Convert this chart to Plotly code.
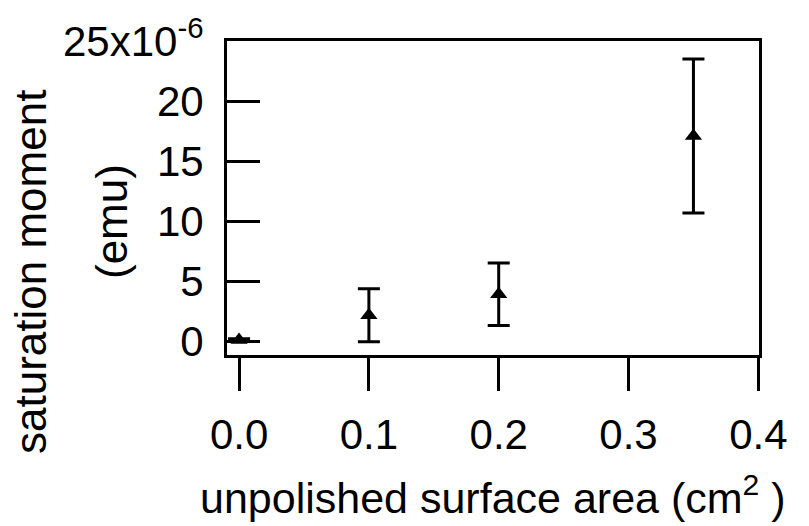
import plotly.graph_objects as go

# Data
area_cm2 = [0.0, 0.1, 0.2, 0.35]
moment_e6 = [0.15, 2.2, 3.95, 17.1]
moment_err_e6 = [0.1, 2.2, 2.6, 6.4]

ytick_vals = [0, 5, 10, 15, 20, 25]
ytick_text = ["0", "5", "10", "15", "20", "25x10<sup>-6</sup>"]
xtick_vals = [0.0, 0.1, 0.2, 0.3, 0.4]
xtick_text = ["0.0", "0.1", "0.2", "0.3", "0.4"]

FONT = "Liberation Sans, Arial, sans-serif"

fig = go.Figure()
fig.add_trace(go.Scatter(
    x=area_cm2, y=moment_e6, mode="markers",
    marker=dict(symbol="triangle-up", size=15, color="black"),
    error_y=dict(type="data", array=moment_err_e6, visible=True,
                 color="black", thickness=3, width=11),
    showlegend=False,
))

fig.update_layout(
    width=809, height=526,
    margin=dict(l=227, r=50, t=41, b=171),
    paper_bgcolor="white", plot_bgcolor="white",
    font=dict(family=FONT, size=42, color="black"),
    xaxis=dict(range=[-0.0093, 0.4005], tickvals=xtick_vals, ticktext=xtick_text,
               ticks="outside", ticklen=33, tickwidth=3, tickcolor="black",
               showline=True, linecolor="black", linewidth=3, mirror=True,
               showgrid=False, zeroline=False, ticklabelstandoff=8,
               tickfont=dict(size=42)),
    yaxis=dict(range=[-1.1, 25.0], tickvals=ytick_vals, ticktext=ytick_text,
               ticks="inside", ticklen=33, tickwidth=3, tickcolor="black",
               showline=True, linecolor="black", linewidth=3, mirror=True,
               showgrid=False, zeroline=False, ticklabelstandoff=12,
               tickfont=dict(size=42)),
    annotations=[
        dict(text="saturation moment", xref="paper", yref="paper",
             x=(30 - 227) / 532, y=(355 - 272) / 314, textangle=-90,
             showarrow=False, xanchor="center", yanchor="middle",
             font=dict(size=44)),
        dict(text="(emu)", xref="paper", yref="paper",
             x=(111 - 227) / 532, y=(355 - 222) / 314, textangle=-90,
             showarrow=False, xanchor="center", yanchor="middle",
             font=dict(size=44)),
        dict(text="unpolished surface area (cm<sup>2</sup> )", xref="paper", yref="paper",
             x=(493 - 227) / 532, y=(355 - 495) / 314,
             showarrow=False, xanchor="center", yanchor="middle",
             font=dict(size=43)),
    ],
)

fig.write_html("out.html")
